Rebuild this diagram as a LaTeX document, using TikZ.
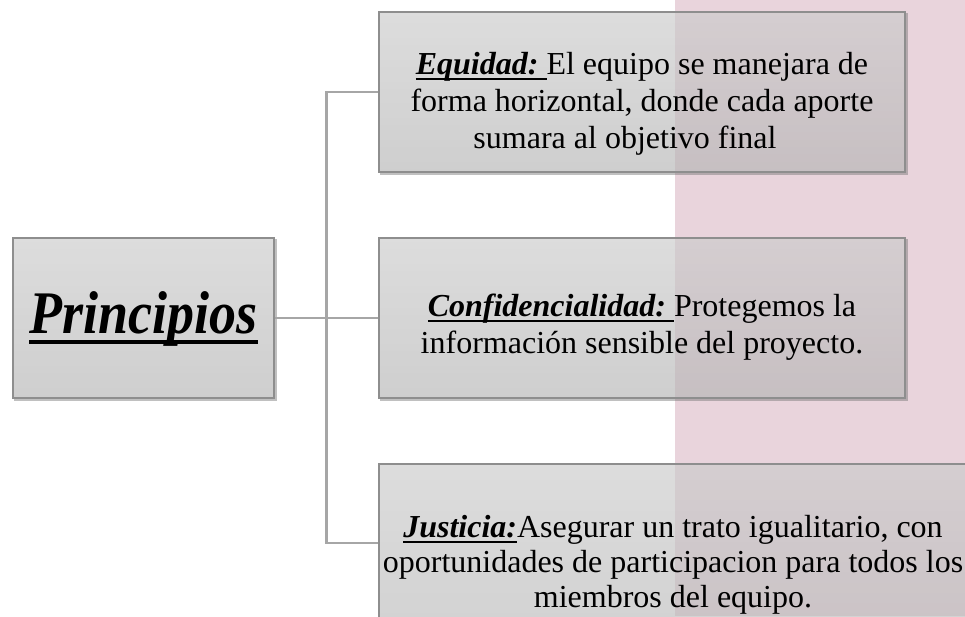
\documentclass[tikz,border=0pt]{standalone}
\usepackage{fontspec}
\setmainfont{Liberation Serif}
\usetikzlibrary{calc}
\definecolor{pinkbg}{HTML}{E9D4DC}
\definecolor{linegray}{HTML}{A6A6A6}
\definecolor{boxborder}{HTML}{8E8E8E}
\definecolor{boxtop}{HTML}{CBCBCB}
\definecolor{boxbot}{HTML}{B5B5B5}
\newsavebox\myulbox
\newcommand\myul[1]{\sbox\myulbox{#1}\rlap{\rule[-0.17em]{\wd\myulbox}{0.06em}}\usebox\myulbox}
\newcommand\hd[1]{\myul{\textbf{\textit{#1}}}}
\begin{document}
\begin{tikzpicture}[x=1pt,y=-1pt,
  conn/.style={draw=linegray, line width=2.2pt},
  box/.style={draw=boxborder, line width=1.2pt, rectangle, inner sep=0pt,
    top color=boxtop, bottom color=boxbot, fill opacity=0.66, draw opacity=1},
  shadowline/.style={draw=black!55, draw opacity=0.45, line width=1.6pt},
  bordline/.style={draw=boxborder, line width=1.2pt},
  txt/.style={align=center, inner sep=0pt, font=\fontsize{32}{36.8}\selectfont}]
\useasboundingbox (0,0) rectangle (965,616);
\fill[pinkbg] (675,0) rectangle (965,616);
% boxes
\node[box, minimum width=261pt, minimum height=160pt] (P) at (143.5,318) {};
\node[box, minimum width=526pt, minimum height=160pt] (E) at (642,92) {};
\node[box, minimum width=526pt, minimum height=160pt] (C) at (642,318) {};
\node[box, minimum width=588pt, minimum height=226pt] (J) at (673,577) {};
\coordinate (Jin) at ($(J.north west)!0.35!(J.south west)$);
% shadows on bottom and right edges
\foreach \b in {P,E,C,J}{
  \draw[shadowline] ([xshift=1.6pt,yshift=-1.6pt]\b.south west) -- ([xshift=1.6pt,yshift=-1.6pt]\b.south east) -- ([xshift=1.6pt,yshift=-1.6pt]\b.north east);
}
% connectors
\draw[conn] (P.east) -- (C.west);
\draw[conn] (E.west) -- ++(-52,0) |- (Jin);
% redraw left borders over connector ends
\draw[bordline] (E.north west) -- (E.south west);
\draw[bordline] (C.north west) -- (C.south west);
\draw[bordline] (J.north west) -- (J.south west);
% texts
\node[txt, font=\fontsize{54}{60}\selectfont] (Pt) at ([yshift=-1pt]P.center) {\scalebox{1}[1.12]{\hd{Principios}}};
\node[txt] (Et) at ([yshift=-12pt]E.center) {\hd{Equidad:}\myul{\ }El equipo se manejara de\\forma horizontal, donde cada aporte\\sumara al objetivo final\hspace*{34pt}};
\node[txt] (Ct) at ([yshift=-9pt]C.center) {\hd{Confidencialidad:}\myul{\ }Protegemos la\\información sensible del proyecto.};
\node[txt, font=\fontsize{32}{35}\selectfont] (Jt) at (673,565) {\hd{Justicia:}Asegurar un trato igualitario, con\\oportunidades de participacion para todos los\\miembros del equipo.};
\end{tikzpicture}
\end{document}
